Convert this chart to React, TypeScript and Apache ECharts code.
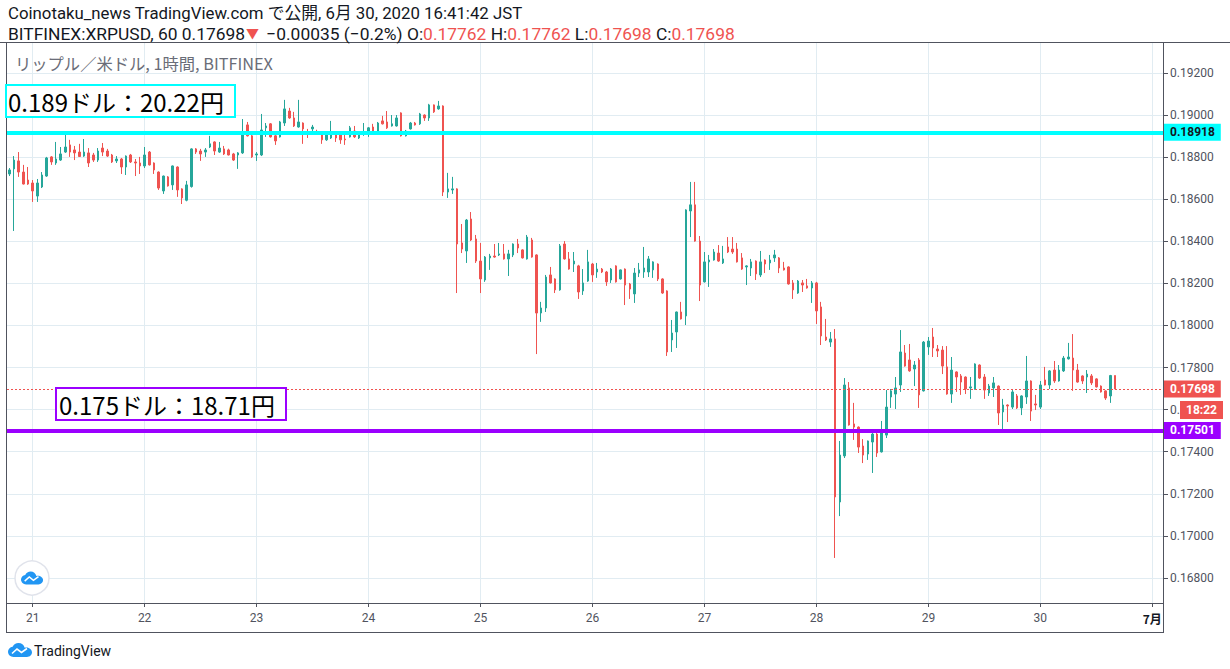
import React, { useEffect, useRef } from "react";
import * as echarts from "echarts";

// ---------- data ----------
const FIRST_CANDLE_UTC = Date.UTC(2020, 5, 20, 19, 0); // JST clock time of first hourly candle
const SLOT_COUNT = 248; // hourly slots on the time axis (candles + empty right margin)

const OPEN = [
  0.18720,0.18744,0.18782,0.18729,0.18691,0.18677,0.18615,0.18658,0.18710,0.18801,
  0.18772,0.18786,0.18824,0.18858,0.18834,0.18824,0.18805,0.18820,0.18810,0.18786,
  0.18843,0.18829,0.18810,0.18782,0.18791,0.18753,0.18810,0.18777,0.18772,0.18758,
  0.18824,0.18772,0.18729,0.18639,0.18706,0.18668,0.18753,0.18649,0.18595,0.18660,
  0.18839,0.18829,0.18824,0.18848,0.18872,0.18824,0.18839,0.18834,0.18815,0.18810,
  0.18820,0.18953,0.18901,0.18810,0.18810,0.18939,0.18958,0.18901,0.18896,0.18962,
  0.19019,0.18986,0.18943,0.18962,0.18915,0.18934,0.18922,0.18915,0.18882,0.18891,
  0.18915,0.18915,0.18886,0.18896,0.18924,0.18891,0.18910,0.18915,0.18943,0.18915,
  0.18972,0.18967,0.18948,0.18948,0.19010,0.18901,0.18934,0.18962,0.18958,0.19000,
  0.18986,0.19048,0.19029,0.19043,0.18634,0.18644,0.18649,0.18392,0.18354,0.18506,
  0.18411,0.18306,0.18216,0.18321,0.18330,0.18335,0.18340,0.18316,0.18335,0.18387,
  0.18359,0.18316,0.18406,0.18335,0.18059,0.18083,0.18240,0.18221,0.18169,0.18387,
  0.18316,0.18292,0.18283,0.18164,0.18211,0.18292,0.18254,0.18268,0.18254,0.18216,
  0.18283,0.18221,0.18268,0.18197,0.18150,0.18249,0.18254,0.18254,0.18264,0.18292,
  0.18221,0.18164,0.17931,0.17969,0.18064,0.18045,0.18544,0.18573,0.18401,0.18207,
  0.18302,0.18311,0.18344,0.18297,0.18373,0.18363,0.18363,0.18321,0.18278,0.18273,
  0.18306,0.18240,0.18311,0.18297,0.18321,0.18321,0.18273,0.18278,0.18202,0.18154,
  0.18202,0.18188,0.18178,0.18202,0.18088,0.17945,0.17921,0.17936,0.17161,0.17380,
  0.17703,0.17532,0.17517,0.17427,0.17389,0.17446,0.17484,0.17399,0.17479,0.17660,
  0.17674,0.17717,0.17869,0.17836,0.17793,0.17836,0.17689,0.17898,0.17945,0.17888,
  0.17883,0.17803,0.17674,0.17779,0.17760,0.17755,0.17703,0.17698,0.17812,0.17755,
  0.17679,0.17703,0.17712,0.17589,0.17622,0.17612,0.17665,0.17608,0.17660,0.17736,
  0.17627,0.17612,0.17741,0.17717,0.17788,0.17736,0.17784,0.17841,0.17845,0.17788,
  0.17760,0.17755,0.17760,0.17746,0.17712,0.17689,0.17665,0.17762,
];
const HIGH = [
  0.18748,0.18805,0.18824,0.18763,0.18753,0.18691,0.18696,0.18729,0.18801,0.18805,
  0.18872,0.18848,0.18915,0.18882,0.18853,0.18863,0.18886,0.18843,0.18820,0.18843,
  0.18867,0.18839,0.18815,0.18805,0.18796,0.18808,0.18815,0.18791,0.18801,0.18848,
  0.18829,0.18775,0.18732,0.18712,0.18710,0.18760,0.18756,0.18652,0.18687,0.18842,
  0.18843,0.18839,0.18843,0.18901,0.18875,0.18872,0.18853,0.18840,0.18820,0.18824,
  0.18981,0.18967,0.18905,0.18824,0.19005,0.18962,0.18962,0.18905,0.18972,0.19072,
  0.19034,0.19015,0.19072,0.18965,0.18934,0.18953,0.18930,0.18918,0.18915,0.18972,
  0.18918,0.18918,0.18910,0.18948,0.18948,0.18918,0.18962,0.18943,0.18958,0.18967,
  0.18996,0.19019,0.19000,0.19000,0.19013,0.18929,0.18967,0.18967,0.19010,0.19003,
  0.19053,0.19050,0.19067,0.19046,0.18725,0.18706,0.18652,0.18482,0.18506,0.18539,
  0.18430,0.18392,0.18330,0.18340,0.18387,0.18392,0.18387,0.18359,0.18390,0.18411,
  0.18362,0.18430,0.18416,0.18338,0.18112,0.18240,0.18278,0.18224,0.18387,0.18401,
  0.18349,0.18349,0.18288,0.18268,0.18359,0.18297,0.18297,0.18273,0.18259,0.18273,
  0.18286,0.18266,0.18271,0.18202,0.18273,0.18297,0.18373,0.18330,0.18305,0.18295,
  0.18224,0.18167,0.18026,0.18066,0.18112,0.18552,0.18682,0.18682,0.18425,0.18349,
  0.18335,0.18363,0.18382,0.18378,0.18420,0.18420,0.18392,0.18344,0.18286,0.18316,
  0.18309,0.18354,0.18314,0.18335,0.18359,0.18325,0.18302,0.18281,0.18216,0.18216,
  0.18216,0.18221,0.18211,0.18207,0.18112,0.18031,0.17969,0.17983,0.17451,0.17750,
  0.17731,0.17632,0.17520,0.17460,0.17453,0.17489,0.17489,0.17546,0.17693,0.17698,
  0.17755,0.17978,0.17907,0.17912,0.17831,0.17845,0.17926,0.17945,0.17988,0.17907,
  0.17902,0.17902,0.17850,0.17782,0.17769,0.17758,0.17755,0.17820,0.17815,0.17769,
  0.17722,0.17755,0.17715,0.17651,0.17625,0.17693,0.17674,0.17668,0.17855,0.17739,
  0.17670,0.17736,0.17803,0.17788,0.17831,0.17812,0.17855,0.17917,0.17959,0.17817,
  0.17763,0.17788,0.17769,0.17749,0.17715,0.17692,0.17765,0.17762,
];
const LOW = [
  0.18710,0.18449,0.18706,0.18670,0.18668,0.18587,0.18587,0.18653,0.18706,0.18763,
  0.18763,0.18782,0.18820,0.18801,0.18786,0.18801,0.18801,0.18753,0.18777,0.18777,
  0.18805,0.18801,0.18772,0.18772,0.18720,0.18715,0.18772,0.18710,0.18720,0.18748,
  0.18760,0.18720,0.18644,0.18625,0.18660,0.18644,0.18611,0.18577,0.18590,0.18655,
  0.18815,0.18782,0.18801,0.18843,0.18810,0.18820,0.18810,0.18808,0.18782,0.18744,
  0.18815,0.18898,0.18796,0.18782,0.18805,0.18896,0.18893,0.18858,0.18893,0.18948,
  0.18982,0.18943,0.18940,0.18863,0.18891,0.18905,0.18905,0.18863,0.18877,0.18886,
  0.18872,0.18863,0.18858,0.18893,0.18891,0.18886,0.18901,0.18896,0.18910,0.18910,
  0.18955,0.18934,0.18945,0.18945,0.18898,0.18898,0.18931,0.18950,0.18953,0.18972,
  0.18972,0.19010,0.19025,0.18615,0.18606,0.18625,0.18154,0.18344,0.18297,0.18401,
  0.18297,0.18154,0.18207,0.18264,0.18322,0.18330,0.18313,0.18235,0.18325,0.18344,
  0.18318,0.18313,0.18322,0.17864,0.18017,0.18064,0.18199,0.18154,0.18165,0.18313,
  0.18265,0.18254,0.18126,0.18145,0.18207,0.18207,0.18226,0.18249,0.18188,0.18202,
  0.18204,0.18218,0.18097,0.18126,0.18107,0.18230,0.18226,0.18230,0.18226,0.18211,
  0.18150,0.17855,0.17874,0.17893,0.18028,0.18002,0.18420,0.18398,0.18116,0.18204,
  0.18183,0.18308,0.18302,0.18292,0.18344,0.18340,0.18299,0.18264,0.18192,0.18235,
  0.18216,0.18230,0.18249,0.18264,0.18302,0.18249,0.18261,0.18194,0.18126,0.18150,
  0.18159,0.18175,0.18107,0.18007,0.17907,0.17926,0.17898,0.16895,0.17094,0.17370,
  0.17524,0.17456,0.17394,0.17346,0.17361,0.17299,0.17375,0.17396,0.17465,0.17608,
  0.17603,0.17684,0.17804,0.17780,0.17712,0.17608,0.17686,0.17860,0.17850,0.17850,
  0.17769,0.17671,0.17632,0.17684,0.17670,0.17674,0.17651,0.17695,0.17746,0.17651,
  0.17665,0.17660,0.17527,0.17508,0.17541,0.17603,0.17603,0.17574,0.17627,0.17546,
  0.17598,0.17603,0.17715,0.17698,0.17727,0.17733,0.17779,0.17838,0.17689,0.17728,
  0.17722,0.17679,0.17717,0.17705,0.17681,0.17646,0.17632,0.17698,
];
const CLOSE = [
  0.18739,0.18786,0.18729,0.18672,0.18672,0.18639,0.18677,0.18715,0.18796,0.18777,
  0.18791,0.18815,0.18848,0.18824,0.18820,0.18803,0.18824,0.18772,0.18786,0.18829,
  0.18824,0.18805,0.18777,0.18791,0.18753,0.18805,0.18777,0.18772,0.18758,0.18810,
  0.18763,0.18739,0.18653,0.18710,0.18663,0.18758,0.18644,0.18606,0.18668,0.18839,
  0.18824,0.18815,0.18834,0.18863,0.18829,0.18843,0.18815,0.18810,0.18786,0.18820,
  0.18920,0.18901,0.18801,0.18815,0.18929,0.18948,0.18896,0.18877,0.18967,0.19029,
  0.18986,0.18948,0.18967,0.18934,0.18910,0.18943,0.18915,0.18882,0.18910,0.18915,
  0.18891,0.18882,0.18882,0.18939,0.18896,0.18915,0.18915,0.18939,0.18924,0.18962,
  0.18958,0.18939,0.18958,0.18986,0.18901,0.18924,0.18962,0.18953,0.19005,0.18986,
  0.19048,0.19015,0.19043,0.18634,0.18649,0.18649,0.18387,0.18363,0.18501,0.18406,
  0.18306,0.18221,0.18325,0.18330,0.18325,0.18340,0.18316,0.18340,0.18387,0.18368,
  0.18321,0.18420,0.18325,0.18059,0.18083,0.18230,0.18202,0.18169,0.18378,0.18316,
  0.18268,0.18306,0.18159,0.18202,0.18302,0.18240,0.18268,0.18254,0.18207,0.18268,
  0.18207,0.18264,0.18192,0.18173,0.18249,0.18264,0.18273,0.18316,0.18302,0.18221,
  0.18154,0.17874,0.17964,0.18064,0.18031,0.18549,0.18573,0.18401,0.18192,0.18302,
  0.18311,0.18349,0.18306,0.18316,0.18349,0.18349,0.18302,0.18268,0.18283,0.18302,
  0.18245,0.18302,0.18292,0.18311,0.18335,0.18273,0.18264,0.18197,0.18169,0.18211,
  0.18192,0.18178,0.18202,0.18069,0.17950,0.17931,0.17936,0.17185,0.17384,0.17717,
  0.17527,0.17517,0.17422,0.17384,0.17451,0.17484,0.17394,0.17489,0.17612,0.17689,
  0.17703,0.17874,0.17807,0.17784,0.17812,0.17670,0.17921,0.17926,0.17893,0.17879,
  0.17807,0.17674,0.17788,0.17755,0.17731,0.17698,0.17708,0.17817,0.17750,0.17693,
  0.17712,0.17727,0.17584,0.17622,0.17617,0.17684,0.17608,0.17665,0.17736,0.17593,
  0.17622,0.17717,0.17717,0.17784,0.17736,0.17788,0.17845,0.17850,0.17788,0.17731,
  0.17736,0.17769,0.17727,0.17708,0.17684,0.17655,0.17762,0.17698,
];

const LEVEL_HIGH = 0.18918;
const LEVEL_LOW = 0.17501;
const LAST_PRICE = 0.17698;
const Y_MIN = 0.16681;
const Y_MAX = 0.19347;

const NOTE_HIGH = "0.189ドル：20.22円";
const NOTE_LOW = "0.175ドル：18.71円";
const TITLE = "リップル／米ドル, 1時間, BITFINEX";
const HEADER_1 = "Coinotaku_news TradingView.com で公開, 6月 30, 2020 16:41:42 JST";
const SYMBOL = "BITFINEX:XRPUSD, 60 0.17698";
const CHANGE = " −0.00035 (−0.2%) ";
const OHLC_LAST = [
  ["O:", "0.17762"],
  ["H:", "0.17762"],
  ["L:", "0.17698"],
  ["C:", "0.17698"],
];
const COUNTDOWN = "18:22";

// ---------- styling ----------
const GREEN = "#26a69a";
const RED = "#ef5350";
const CYAN = "#00ffff";
const PURPLE = "#9b00ff";
const GRID = "#e1ecf2";
const BORDER = "#50535e";
const TEXT = "#131722";
const AXIS_TEXT = "#50535e";
const LOGO_BLUE = "#2196f3";
const FONT = "Roboto, 'Noto Sans CJK JP', sans-serif";
const JP_FONT = "'Noto Sans CJK JP', 'Noto Sans', sans-serif";

const pad2 = (n: number) => String(n).padStart(2, "0");
const CATEGORIES: string[] = Array.from({ length: SLOT_COUNT }, (_, i) => {
  const d = new Date(FIRST_CANDLE_UTC + i * 3600000);
  return `${d.getUTCFullYear()}-${pad2(d.getUTCMonth() + 1)}-${pad2(d.getUTCDate())} ${pad2(d.getUTCHours())}:00`;
});
const CANDLES = OPEN.map((o, i) => [o, CLOSE[i], LOW[i], HIGH[i]]);

const isMidnight = (_i: number, v: string) => v.endsWith("00:00");
const dayLabel = (v: string) => {
  const month = Number(v.slice(5, 7));
  const day = Number(v.slice(8, 10));
  if (day === 1) return `{m|${month}月}`;
  return String(day);
};

const CLOUD_D =
  "M5.5 14 C2.5 14 0 11.7 0 8.8 C0 6.2 2 4 4.6 3.7 C5.6 1.5 7.9 0 10.5 0 C13.5 0 16 2 16.7 4.8 C17.3 4.6 17.9 4.5 18.5 4.5 C21.5 4.5 24 6.9 24 9.3 C24 11.9 21.8 14 19 14 Z";
let shapeRegistered = false;
function ensureShape() {
  if (shapeRegistered) return;
  echarts.graphic.registerShape("tvCloud", echarts.graphic.extendPath(CLOUD_D, {}) as any);
  shapeRegistered = true;
}

function cloudIcon(x: number, y: number, s: number) {
  return {
    type: "group",
    x,
    y,
    z: 120,
    children: [
      { type: "tvCloud", z: 120, x: 0, y: 0, scaleX: s, scaleY: s, style: { fill: LOGO_BLUE } },
      {
        type: "polyline",
        z: 121,
        shape: { points: [[4 * s, 10.5 * s], [9 * s, 6 * s], [13.5 * s, 9.5 * s], [19 * s, 5.5 * s]] },
        style: { stroke: "#ffffff", lineWidth: 1.6 * s, fill: null },
      },
    ],
  };
}

function buildGraphics(lastY: number | null) {
  const line = (x1: number, y1: number, x2: number, y2: number) => ({
    type: "line",
    z: 90,
    silent: true,
    shape: { x1, y1, x2, y2 },
    style: { stroke: BORDER, lineWidth: 1 },
  });
  const ohlcRich: any = {
    k: { fill: TEXT, fontSize: 17.4, fontFamily: FONT },
    v: { fill: RED, fontSize: 17.4, fontFamily: FONT },
    a: { fill: RED, fontSize: 13, fontFamily: FONT, padding: [0, 3, 0, 1] },
  };
  const line2 =
    `{k|${SYMBOL}}{a|▼}{k|${CHANGE}}` +
    OHLC_LAST.map(([k, v], i) => `{k|${i ? " " : ""}${k}}{v|${v}}`).join("");
  const els: any[] = [
    {
      type: "rect",
      z: 80,
      silent: true,
      shape: { x: 0, y: 0, width: 1230, height: 42 },
      style: { fill: "#ffffff" },
    },
    {
      type: "text",
      z: 100,
      x: 8,
      y: 13,
      style: {
        text: HEADER_1,
        fill: TEXT,
        fontSize: 16.8,
        fontFamily: FONT,
        verticalAlign: "middle",
      },
    },
    {
      type: "text",
      z: 100,
      x: 8,
      y: 33.5,
      style: {
        text: line2,
        rich: ohlcRich,
        fontSize: 17.4,
        fontFamily: FONT,
        verticalAlign: "middle",
      },
    },
    line(0, 42.5, 1230, 42.5),
    line(6.5, 42, 6.5, 633),
    line(1163.5, 42, 1163.5, 633),
    line(6, 603.5, 1164, 603.5),
    line(6, 632.5, 1164, 632.5),
    {
      type: "text",
      z: 100,
      x: 15,
      y: 63,
      style: { text: TITLE, fill: "#6a6d78", fontSize: 16.3, fontFamily: JP_FONT, verticalAlign: "middle" },
    },
    {
      type: "rect",
      z: 95,
      shape: { x: 6, y: 85, width: 229, height: 32 },
      style: { fill: "#ffffff", stroke: CYAN, lineWidth: 2 },
    },
    {
      type: "text",
      z: 100,
      x: 8,
      y: 101,
      style: { text: NOTE_HIGH, fill: "#000000", fontSize: 24, fontFamily: JP_FONT, verticalAlign: "middle" },
    },
    {
      type: "rect",
      z: 95,
      shape: { x: 56, y: 388, width: 230, height: 32 },
      style: { fill: "#ffffff", stroke: PURPLE, lineWidth: 2 },
    },
    {
      type: "text",
      z: 100,
      x: 59,
      y: 404,
      style: { text: NOTE_LOW, fill: "#000000", fontSize: 24, fontFamily: JP_FONT, verticalAlign: "middle" },
    },
    {
      type: "circle",
      z: 95,
      shape: { cx: 32, cy: 578, r: 17 },
      style: { fill: "#ffffff", stroke: "#e0e3eb", lineWidth: 1.5 },
    },
    cloudIcon(21, 571.5, 0.92),
    cloudIcon(8, 643, 1.0),
    {
      type: "text",
      z: 100,
      x: 34,
      y: 651,
      style: { text: "TradingView", fill: TEXT, fontSize: 14, fontFamily: FONT, verticalAlign: "middle" },
    },
  ];
  if (lastY != null) {
    els.push(
      {
        type: "rect",
        z: 110,
        shape: { x: 1180, y: lastY + 12, width: 43, height: 18 },
        style: { fill: RED },
      },
      {
        type: "text",
        z: 111,
        x: 1201.5,
        y: lastY + 21,
        style: {
          text: COUNTDOWN,
          fill: "#ffffff",
          fontSize: 12,
          fontWeight: "bold",
          fontFamily: FONT,
          align: "center",
          verticalAlign: "middle",
        },
      }
    );
  }
  return els;
}

function priceLine(value: number, color: string, textColor: string, width: number, type: any) {
  return {
    yAxis: value,
    lineStyle: { color, width, type },
    label: {
      show: true,
      position: "end",
      distance: 0,
      formatter: value.toFixed(5),
      backgroundColor: color,
      color: textColor,
      fontSize: 12,
      fontWeight: "bold",
      fontFamily: FONT,
      padding: [3, 6, 2, 6],
    },
  };
}

function buildOption(lastY: number | null) {
  return {
    animation: false,
    backgroundColor: "#ffffff",
    textStyle: { fontFamily: FONT },
    grid: { left: 7, right: 66, top: 42, bottom: 66, containLabel: false },
    xAxis: {
      type: "category",
      data: CATEGORIES,
      boundaryGap: true,
      axisLine: { show: false },
      axisTick: {
        show: true,
        alignWithLabel: true,
        interval: isMidnight,
        length: 4,
        lineStyle: { color: BORDER },
      },
      axisLabel: {
        interval: isMidnight,
        formatter: dayLabel,
        color: AXIS_TEXT,
        fontSize: 12,
        fontFamily: FONT,
        margin: 9,
        rich: { m: { fontWeight: "bold", color: TEXT, fontSize: 12, fontFamily: JP_FONT } },
      },
      splitLine: {
        show: true,
        interval: isMidnight,
        alignWithLabel: true,
        lineStyle: { color: GRID, width: 1 },
      },
    },
    yAxis: {
      type: "value",
      position: "right",
      min: Y_MIN,
      max: Y_MAX,
      splitNumber: 13,
      axisLine: { show: false },
      axisTick: { show: true, length: 4, lineStyle: { color: BORDER } },
      axisLabel: {
        color: AXIS_TEXT,
        fontSize: 12,
        fontFamily: FONT,
        margin: 6,
        showMinLabel: false,
        showMaxLabel: false,
        formatter: (v: number) => v.toFixed(5),
      },
      splitLine: { show: true, lineStyle: { color: GRID, width: 1 } },
    },
    series: [
      {
        type: "candlestick",
        data: CANDLES,
        barWidth: 2,
        clip: false,
        itemStyle: {
          color: GREEN,
          color0: RED,
          borderColor: GREEN,
          borderColor0: RED,
          borderWidth: 1,
        },
        markLine: {
          silent: true,
          precision: 5,
          symbol: ["none", "none"],
          data: [
            priceLine(LAST_PRICE, RED, "#ffffff", 1, [2, 2]),
            priceLine(LEVEL_HIGH, CYAN, TEXT, 4, "solid"),
            priceLine(LEVEL_LOW, PURPLE, "#ffffff", 4, "solid"),
          ],
        },
      },
    ],
    graphic: buildGraphics(lastY),
  };
}

export default function App() {
  const ref = useRef<HTMLDivElement | null>(null);
  useEffect(() => {
    if (!ref.current) return;
    ensureShape();
    const chart = echarts.init(ref.current, undefined, { renderer: "svg" });
    chart.setOption(buildOption(null) as any);
    const lastY = chart.convertToPixel({ yAxisIndex: 0 }, LAST_PRICE) as number;
    chart.setOption(buildOption(lastY) as any, { notMerge: true });
    return () => chart.dispose();
  }, []);
  return (
    <div
      ref={ref}
      style={{ position: "fixed", left: 0, top: 0, width: 1230, height: 669, background: "#fff" }}
    />
  );
}
